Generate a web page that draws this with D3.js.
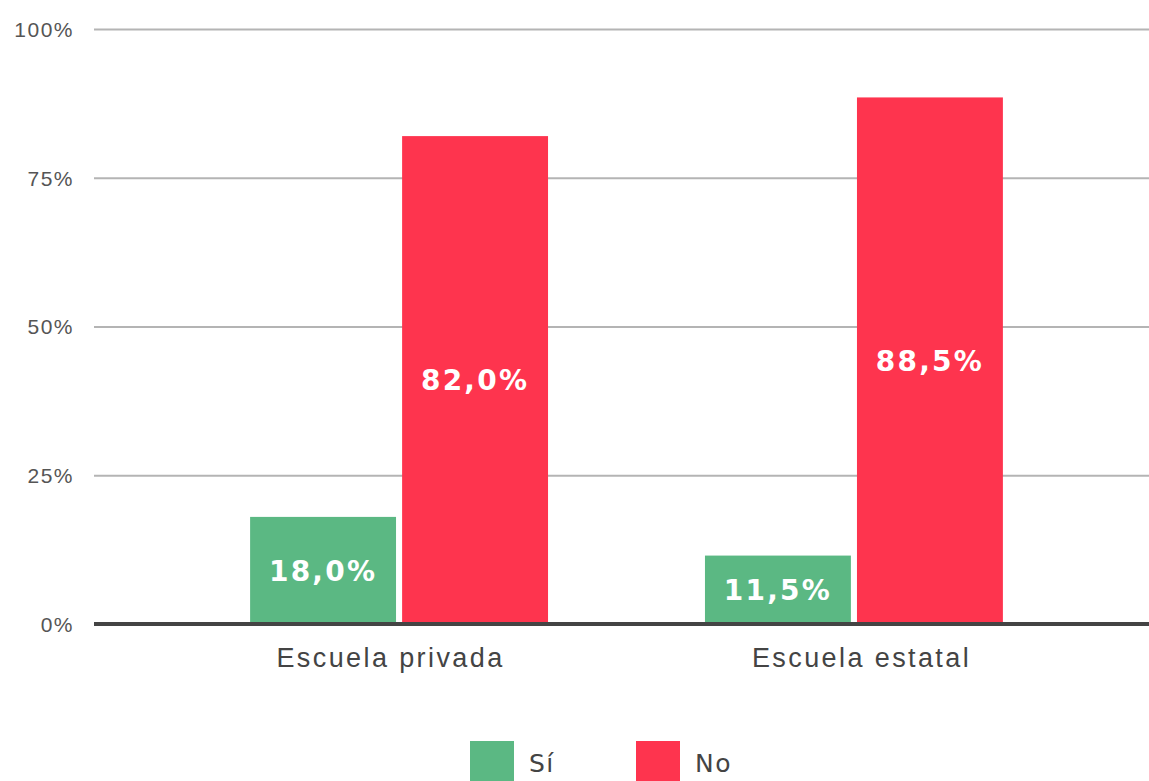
<!DOCTYPE html>
<html lang="es">
<head>
  <meta charset="UTF-8">
  <title>Escuela privada / estatal</title>
  <style>
    body { margin: 0; background: #fff; }
    svg { display: block; font-family: "DejaVu Sans", Inter, sans-serif; }
  </style>
</head>
<body>
  <div id="chart"></div>
  <script src="https://d3js.org/d3.v7.min.js"></script>
  <script>
    // datos
    let categories = ['Escuela privada', 'Escuela estatal']
    let series = ['Sí', 'No']
    let siValues = [18.0, 11.5]
    let noValues = [82.0, 88.5]
    let yTicks = [0, 25, 50, 75, 100]
    let colors = ['#5bb883', '#fe344e']

    let W = 1149, H = 781
    let mLeft = 94, mRight = 1149, mTop = 29, mBottom = 624

    let rows = categories.map((c, i) => ({ cat: c, values: [siValues[i], noValues[i]] }))

    let svg = d3.select('#chart').append('svg')
      .attr('width', W)
      .attr('height', H)

    let y = d3.scaleLinear().domain([0, 100]).range([mBottom, mTop])

    let x0 = d3.scaleBand()
      .domain(categories)
      .range([100, 1153])
      .paddingInner(0.345)
      .paddingOuter(0.33)

    let x1 = d3.scaleBand()
      .domain(series)
      .range([0, x0.bandwidth()])
      .paddingInner(0.04)

    // las etiquetas del eje x no caen justo en el centro de cada grupo
    let xLabel = d3.scaleBand()
      .domain(categories)
      .range([155, 1097])

    // rejilla
    let yAxis = d3.axisLeft(y)
      .tickValues(yTicks)
      .tickSize(-(mRight - mLeft))
      .tickPadding(20)
      .tickFormat(d => d + '%')

    let gy = svg.append('g')
      .attr('transform', `translate(${mLeft},0)`)
      .call(yAxis)
    gy.select('.domain').remove()
    gy.selectAll('line').attr('stroke', '#b4b4b4').attr('stroke-width', 2)
    gy.selectAll('text')
      .attr('fill', '#555')
      .style('font-size', '21px')
      .style('letter-spacing', '1.5px')
      .attr('dy', '0.35em')

    // barras
    let groups = svg.append('g').selectAll('g')
      .data(rows)
      .enter()
      .append('g')
      .attr('transform', d => `translate(${x0(d.cat)},0)`)

    groups.selectAll('rect')
      .data(d => d.values.map((v, i) => ({ key: series[i], v: v, i: i })))
      .enter()
      .append('rect')
      .attr('x', d => x1(d.key))
      .attr('y', d => y(d.v))
      .attr('width', x1.bandwidth())
      .attr('height', d => y(0) - y(d.v))
      .attr('fill', d => colors[d.i])

    groups.selectAll('text')
      .data(d => d.values.map((v, i) => ({ key: series[i], v: v, i: i })))
      .enter()
      .append('text')
      .attr('x', d => x1(d.key) + x1.bandwidth() / 2)
      .attr('y', d => (y(d.v) + y(0)) / 2)
      .attr('dy', '0.36em')
      .attr('text-anchor', 'middle')
      .attr('fill', '#fff')
      .style('font-size', '28px')
      .style('font-weight', 'bold')
      .style('letter-spacing', '2.2px')
      .text(d => d.v.toFixed(1).replace('.', ',') + '%')

    // línea base
    svg.append('line')
      .attr('x1', mLeft)
      .attr('x2', mRight)
      .attr('y1', y(0))
      .attr('y2', y(0))
      .attr('stroke', '#444')
      .attr('stroke-width', 4)

    // eje x
    let xAxis = d3.axisBottom(xLabel).tickSize(0).tickPadding(24)
    let gx = svg.append('g')
      .attr('transform', `translate(0,${mBottom})`)
      .call(xAxis)
    gx.select('.domain').remove()
    gx.selectAll('text')
      .attr('fill', '#444')
      .style('font-size', '27px')
      .style('letter-spacing', '2.4px')

    // leyenda
    let legendX = [470, 636]
    let legend = svg.append('g').selectAll('g')
      .data(series)
      .enter()
      .append('g')
      .attr('transform', (d, i) => `translate(${legendX[i]},741)`)
    legend.append('rect')
      .attr('width', 44)
      .attr('height', 44)
      .attr('fill', (d, i) => colors[i])
    legend.append('text')
      .attr('x', 59)
      .attr('y', 22)
      .attr('dy', '0.35em')
      .attr('fill', '#444')
      .style('font-size', '25px')
      .style('letter-spacing', '1.5px')
      .text(d => d)
  </script>
</body>
</html>
